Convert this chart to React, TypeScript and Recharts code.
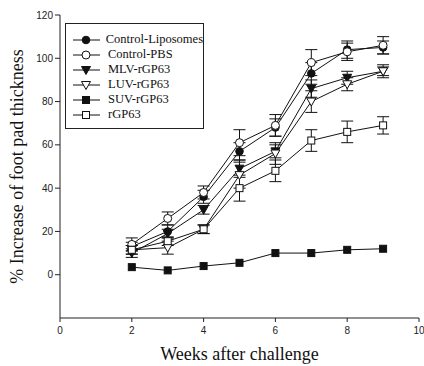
import React from 'react';
import { LineChart, Line, XAxis, YAxis, ErrorBar } from 'recharts';

const weeks = [2, 3, 4, 5, 6, 7, 8, 9];

const controlLiposomes = [13, 20, 36, 57, 68, 93, 104, 105];
const controlLiposomesErr = [2, 3, 3, 4, 4, 5, 4, 3];
const controlPBS = [14, 26, 38, 61, 69, 98, 103, 106];
const controlPBSErr = [3, 3, 3, 6, 5, 6, 4, 4];
const mlv = [10, 19, 30, 49, 57, 86, 91, 94];
const mlvErr = [2, 2, 2, 4, 3, 4, 3, 2];
const luv = [11.5, 12.5, 21, 46, 56, 80, 88, 94];
const luvErr = [2, 3, 2, 6, 5, 5, 3, 3];
const suv = [3.5, 2, 4, 5.5, 10, 10, 11.5, 12];
const rgp63 = [11.5, 15.5, 21, 40, 48, 62, 66, 69];
const rgp63Err = [2, 2, 2, 6, 5, 5, 5, 4];

const xTicks = [0, 2, 4, 6, 8, 10];
const yTicks = [0, 20, 40, 60, 80, 100, 120];

type Kind = 'filledCircle' | 'openCircle' | 'filledDown' | 'openDown' | 'filledSquare' | 'openSquare';

const series: { key: string; err?: string; name: string; kind: Kind }[] = [
  { key: 'cl', err: 'clErr', name: 'Control-Liposomes', kind: 'filledCircle' },
  { key: 'pbs', err: 'pbsErr', name: 'Control-PBS', kind: 'openCircle' },
  { key: 'mlv', err: 'mlvErr', name: 'MLV-rGP63', kind: 'filledDown' },
  { key: 'luv', err: 'luvErr', name: 'LUV-rGP63', kind: 'openDown' },
  { key: 'suv', name: 'SUV-rGP63', kind: 'filledSquare' },
  { key: 'rgp', err: 'rgpErr', name: 'rGP63', kind: 'openSquare' },
];

const data = weeks.map((w, i) => ({
  week: w,
  cl: controlLiposomes[i], clErr: controlLiposomesErr[i],
  pbs: controlPBS[i], pbsErr: controlPBSErr[i],
  mlv: mlv[i], mlvErr: mlvErr[i],
  luv: luv[i], luvErr: luvErr[i],
  suv: suv[i],
  rgp: rgp63[i], rgpErr: rgp63Err[i],
}));

const Marker = ({ cx, cy, kind }: { cx: number; cy: number; kind: Kind }) => {
  const ink = '#111';
  switch (kind) {
    case 'filledCircle':
      return <circle cx={cx} cy={cy} r={3.8} fill={ink} stroke={ink} />;
    case 'openCircle':
      return <circle cx={cx} cy={cy} r={4} fill="#fff" stroke={ink} strokeWidth={1} />;
    case 'filledDown':
      return <polygon points={`${cx - 4.5},${cy - 3.5} ${cx + 4.5},${cy - 3.5} ${cx},${cy + 4.5}`} fill={ink} stroke={ink} />;
    case 'openDown':
      return <polygon points={`${cx - 4.5},${cy - 3.5} ${cx + 4.5},${cy - 3.5} ${cx},${cy + 4.5}`} fill="#fff" stroke={ink} />;
    case 'filledSquare':
      return <rect x={cx - 3.5} y={cy - 3.5} width={7} height={7} fill={ink} stroke={ink} />;
    default:
      return <rect x={cx - 3.5} y={cy - 3.5} width={7} height={7} fill="#fff" stroke={ink} />;
  }
};

const LegendBox = () => (
  <div style={{ position: 'absolute', left: 65, top: 23, border: '1px solid #222', width: 139, height: 106, boxSizing: 'border-box', padding: '8px 0 0 6px', background: '#fff' }}>
    {series.map((s) => (
      <div key={s.key} style={{ display: 'flex', alignItems: 'center', height: 15, fontFamily: 'Liberation Serif', fontSize: 12.5, color: '#111', whiteSpace: 'nowrap' }}>
        <svg width={30} height={12}>
          <line x1={1} y1={6} x2={28} y2={6} stroke="#111" strokeWidth={1} />
          <Marker cx={14} cy={6} kind={s.kind} />
        </svg>
        <span style={{ marginLeft: 6 }}>{s.name}</span>
      </div>
    ))}
  </div>
);

export default function App() {
  return (
    <div style={{ position: 'absolute', left: 0, top: 0, width: 424, height: 366, background: '#fff' }}>
      <LineChart width={424} height={366} data={data} margin={{ top: 15, right: 5, bottom: 0, left: 0 }}>
        <XAxis
          dataKey="week"
          type="number"
          domain={[0, 10]}
          ticks={xTicks}
          height={48}
          stroke="#222"
          tickSize={4}
          tick={{ fontFamily: 'Liberation Sans', fontSize: 10, fill: '#222', dy: 3 }}
          label={{ value: 'Weeks after challenge', position: 'insideBottom', offset: 6, style: { fontFamily: 'Liberation Serif', fontSize: 18, fill: '#111' } }}
        />
        <XAxis xAxisId="top" orientation="top" dataKey="week" type="number" domain={[0, 10]} height={0} tick={false} tickLine={false} stroke="#444" />
        <YAxis
          domain={[-20, 120]}
          ticks={yTicks}
          width={60}
          stroke="#222"
          tickSize={5}
          interval={0}
          tick={{ fontFamily: 'Liberation Sans', fontSize: 10, fill: '#222' }}
          label={{ value: '% Increase of foot pad thickness', angle: -90, position: 'insideLeft', offset: 17, style: { fontFamily: 'Liberation Serif', fontSize: 18, fill: '#111', textAnchor: 'middle' } }}
        />
        <YAxis yAxisId="right" orientation="right" domain={[-20, 120]} width={0} tick={false} tickLine={false} stroke="#444" />
        {series.map((s) => (
          <Line
            key={s.key}
            dataKey={s.key}
            name={s.name}
            stroke="#111"
            strokeWidth={1}
            isAnimationActive={false}
            dot={(p: any) => <Marker key={`${s.key}-${p.index}`} cx={p.cx} cy={p.cy} kind={s.kind} />}
          >
            {s.err && <ErrorBar dataKey={s.err} direction="y" width={6} stroke="#111" strokeWidth={1} isAnimationActive={false} />}
          </Line>
        ))}
      </LineChart>
      <LegendBox />
    </div>
  );
}
